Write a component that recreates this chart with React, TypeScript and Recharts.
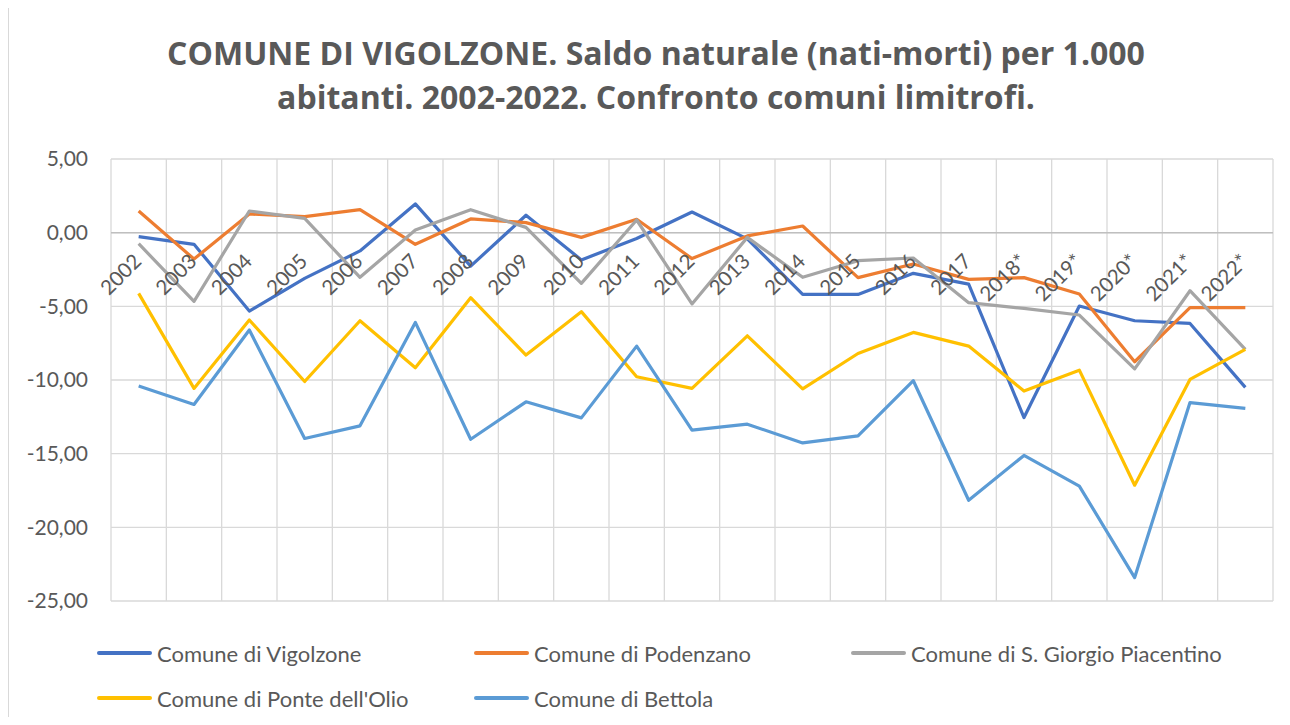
import { CartesianGrid, Line, LineChart, ReferenceLine, XAxis, YAxis } from "recharts";

const YEARS = [
  "2002", "2003", "2004", "2005", "2006", "2007", "2008", "2009", "2010", "2011", "2012",
  "2013", "2014", "2015", "2016", "2017", "2018*", "2019*", "2020*", "2021*", "2022*",
];

const VIGOLZONE = [-0.27, -0.79, -5.32, -3.1, -1.24, 1.95, -2.27, 1.18, -1.85, -0.4, 1.4, -0.42, -4.19, -4.19, -2.76, -3.49, -12.55, -4.98, -5.98, -6.16, -10.5];
const PODENZANO = [1.47, -1.79, 1.27, 1.09, 1.56, -0.79, 0.93, 0.68, -0.32, 0.91, -1.76, -0.22, 0.45, -3.05, -2.13, -3.17, -3.05, -4.16, -8.76, -5.09, -5.09];
const S_GIORGIO = [-0.75, -4.66, 1.47, 0.97, -3.03, 0.18, 1.56, 0.36, -3.44, 0.86, -4.84, -0.32, -3.03, -1.9, -1.72, -4.75, -5.14, -5.59, -9.24, -3.94, -7.92];
const PONTE_OLIO = [-4.12, -10.57, -5.93, -10.1, -5.98, -9.17, -4.41, -8.31, -5.36, -9.78, -10.57, -7.0, -10.6, -8.2, -6.77, -7.7, -10.75, -9.33, -17.14, -9.96, -7.92];
const BETTOLA = [-10.41, -11.66, -6.61, -13.97, -13.11, -6.09, -14.02, -11.48, -12.57, -7.7, -13.4, -13.0, -14.27, -13.79, -10.05, -18.16, -15.12, -17.2, -23.41, -11.53, -11.93];

const Y_TICKS = [5, 0, -5, -10, -15, -20, -25];

const SERIES = [
  { key: "vigolzone", name: "Comune di Vigolzone", color: "#4472C4", values: VIGOLZONE },
  { key: "podenzano", name: "Comune di Podenzano", color: "#ED7D31", values: PODENZANO },
  { key: "sgiorgio", name: "Comune di S. Giorgio Piacentino", color: "#A5A5A5", values: S_GIORGIO },
  { key: "ponte", name: "Comune di Ponte dell'Olio", color: "#FFC000", values: PONTE_OLIO },
  { key: "bettola", name: "Comune di Bettola", color: "#5B9BD5", values: BETTOLA },
];

const W = 1290;
const H = 725;
const M = { top: 159, left: 51, right: 17, bottom: 123 };
const Y_AXIS_W = 60;
const X_AXIS_H = 1;
const Y_MIN = -25;
const Y_MAX = 5;
const FONT = "Lato, 'Open Sans', sans-serif";
const TITLE_FONT = "'Open Sans', Lato, sans-serif";
const INK = "#595959";

const data = YEARS.map((year, i) => {
  const row: Record<string, string | number> = { year };
  SERIES.forEach((s) => (row[s.key] = s.values[i]));
  return row;
});

const fmtIt = (v: number) => v.toFixed(2).replace(".", ",");

// Excel puts points in the middle of each category slot, so pad half a slot each side
const plotW = W - M.left - Y_AXIS_W - M.right;
const halfSlot = plotW / (2 * YEARS.length);

// the category labels sit along the zero line, like Excel's axis crossing
const plotH = H - M.top - M.bottom - X_AXIS_H;
const zeroY = M.top + (plotH * Y_MAX) / (Y_MAX - Y_MIN);

function YearTick({ x, payload }: any) {
  const ax = x + 4;
  const ay = zeroY + 30;
  return (
    <text x={ax} y={ay} transform={`rotate(-45 ${ax} ${ay})`} textAnchor="end" fill={INK} fontSize={20.5} fontFamily={FONT}>
      {payload.value}
    </text>
  );
}

export default function App() {
  return (
    <div style={{ position: "relative", width: W, height: H, margin: -8, background: "#fff", fontFamily: FONT }}>
      <div style={{ position: "absolute", left: 8, top: 0, width: 1, height: H, background: "#D9D9D9" }} />
      <div
        style={{
          position: "absolute",
          left: 20,
          top: 31,
          width: 1272,
          textAlign: "center",
          fontFamily: TITLE_FONT,
          fontWeight: 700,
          fontSize: 32,
          lineHeight: "44px",
          color: INK,
        }}
      >
        COMUNE DI VIGOLZONE. Saldo naturale (nati-morti) per 1.000
        <br />
        abitanti. 2002-2022. Confronto comuni limitrofi.
      </div>
      <div style={{ position: "absolute", left: 0, top: 0 }}>
        <LineChart width={W} height={H} data={data} margin={M}>
          <CartesianGrid
            stroke="#D9D9D9"
            strokeWidth={1.3}
            verticalCoordinatesGenerator={({ offset }: any) =>
              Array.from({ length: YEARS.length + 1 }, (_, k) => offset.left + (k * offset.width) / YEARS.length)
            }
          />
          <XAxis
            dataKey="year"
            height={X_AXIS_H}
            interval={0}
            padding={{ left: halfSlot, right: halfSlot }}
            axisLine={false}
            tickLine={false}
            tick={<YearTick />}
          />
          <YAxis
            width={Y_AXIS_W}
            domain={[Y_MIN, Y_MAX]}
            ticks={Y_TICKS}
            axisLine={false}
            tickLine={false}
            tickSize={0}
            tickMargin={23}
            tickFormatter={fmtIt}
            tick={{ fill: INK, fontSize: 21, fontFamily: FONT }}
          />
          <ReferenceLine y={0} stroke="#BFBFBF" strokeWidth={1.5} />
          {SERIES.map((s) => (
            <Line
              key={s.key}
              dataKey={s.key}
              name={s.name}
              stroke={s.color}
              strokeWidth={3.2}
              strokeLinejoin="round"
              dot={false}
              activeDot={false}
              isAnimationActive={false}
            />
          ))}
        </LineChart>
      </div>
      {SERIES.map((s, i) => (
        <div
          key={s.key}
          style={{
            position: "absolute",
            left: 97 + (i % 3) * 377,
            top: 653 + Math.floor(i / 3) * 45 - 15,
            height: 30,
            display: "flex",
            alignItems: "center",
            fontSize: 22,
            color: INK,
            whiteSpace: "nowrap",
          }}
        >
          <span style={{ display: "inline-block", width: 55, height: 4, borderRadius: 2, background: s.color, marginRight: 5 }} />
          {s.name}
        </div>
      ))}
    </div>
  );
}
